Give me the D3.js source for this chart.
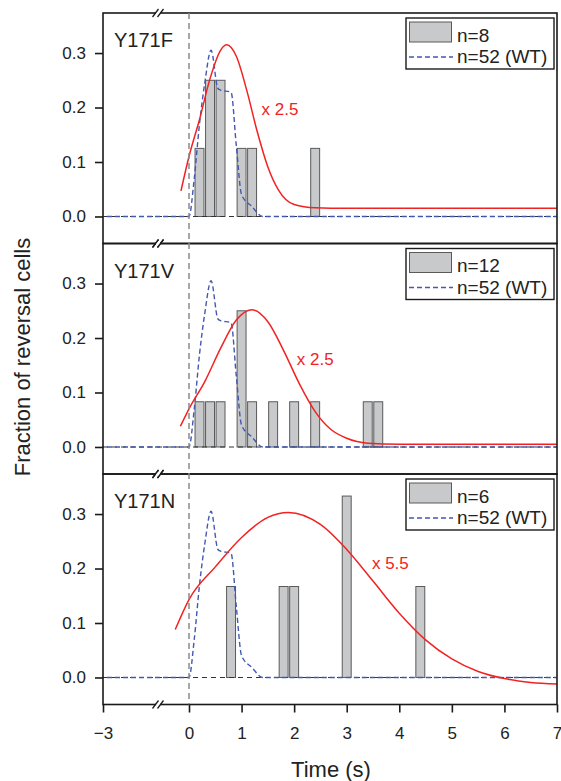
<!DOCTYPE html>
<html>
<head>
<meta charset="utf-8">
<script src="https://cdn.jsdelivr.net/npm/d3@7"></script>
<style>
  body { margin: 0; background: #fff; }
  text { font-family: "Liberation Sans", Arial, sans-serif; fill: #222; }
</style>
</head>
<body>
<div id="plt"></div>
<script>
// Mutants, one panel each
const mutants = ["Y171F", "Y171V", "Y171N"];
const cellCounts = [8, 12, 6];
const fitScales = ["x 2.5", "x 2.5", "x 5.5"];
const fitLabelAt = [[1.38, 0.186], [2.05, 0.151], [3.48, 0.2]]; // time, fraction

// histogram bin centres (s) and fractions
const binTimes = [
  [0.2, 0.4, 0.6, 1.0, 1.2, 2.4],
  [0.2, 0.4, 0.6, 1.0, 1.2, 1.6, 2.0, 2.4, 3.4, 3.6],
  [0.8, 1.8, 2.0, 3.0, 4.4]
];
const binFractions = [
  [0.125, 0.25, 0.25, 0.125, 0.125, 0.125],
  [0.083, 0.083, 0.083, 0.25, 0.083, 0.083, 0.083, 0.083, 0.083, 0.083],
  [0.167, 0.167, 0.167, 0.333, 0.167]
];

// wild type (n=52), same in every panel
const wtTimes = [-3, 0, 0.1, 0.2, 0.3, 0.42, 0.55, 0.6, 0.8, 0.9, 1.0, 1.2, 1.4, 7];
const wtFractions = [0, 0, 0.07, 0.17, 0.245, 0.305, 0.235, 0.232, 0.228, 0.13, 0.04, 0.018, 0, 0];

// scaled fit curves
const fitTimes = [
  [-0.28, 0, 0.2, 0.4, 0.6, 0.72, 0.9, 1.1, 1.3, 1.5, 1.7, 2.0, 2.4, 3, 7],
  [-0.3, 0, 0.3, 0.6, 0.9, 1.19, 1.5, 1.8, 2.1, 2.4, 2.7, 3.0, 3.4, 4, 7],
  [-0.48, 0, 0.5, 1.0, 1.5, 1.89, 2.5, 3.0, 3.5, 4.0, 4.5, 5.0, 5.5, 6.0, 6.5, 7.0]
];
const fitValues = [
  [0.047, 0.11, 0.178, 0.253, 0.305, 0.315, 0.294, 0.231, 0.155, 0.091, 0.049, 0.022, 0.016, 0.015, 0.015],
  [0.038, 0.07, 0.12, 0.181, 0.233, 0.252, 0.23, 0.177, 0.116, 0.065, 0.032, 0.016, 0.007, 0.005, 0.005],
  [0.088, 0.143, 0.203, 0.257, 0.294, 0.303, 0.281, 0.235, 0.177, 0.118, 0.069, 0.034, 0.011, -0.002, -0.009, -0.012]
];

const xTicks = [-3, 0, 1, 2, 3, 4, 5, 6, 7];
const yTicks = [0, 0.1, 0.2, 0.3];

// layout
const W = 561, H = 781;
const left = 103, right = 557, top0 = 13, panelH = 230.5;
const breakX = 158;
const binWidth = 0.17;

const svg = d3.select("#plt")
    .append("svg")
    .attr("width", W)
    .attr("height", H);

// broken time axis: -3..0 squeezed
const x = d3.scaleLinear().domain([-3, 0, 7]).range([left, 189, right]);

const lastBottom = top0 + 3 * panelH;

mutants.forEach((name, i) => {
  const pTop = top0 + i * panelH;
  const pBot = pTop + panelH;
  const y = d3.scaleLinear().domain([-0.0496, 0.3735]).range([pBot, pTop]);
  const g = svg.append("g");

  // bars
  g.append("g")
    .selectAll("rect")
    .data(binTimes[i].map((t, k) => ({ t: t, v: binFractions[i][k] })))
    .enter()
    .append("rect")
    .attr("x", d => x(d.t - binWidth / 2))
    .attr("width", d => x(d.t + binWidth / 2) - x(d.t - binWidth / 2))
    .attr("y", d => y(d.v))
    .attr("height", d => y(0) - y(d.v))
    .attr("fill", "#c8c9ca")
    .attr("stroke", "#5a5a5a")
    .attr("stroke-width", 1);

  // zero baseline
  g.append("line")
    .attr("x1", x(-3)).attr("x2", x(7))
    .attr("y1", y(0)).attr("y2", y(0))
    .attr("stroke", "#333")
    .attr("stroke-width", 1.2)
    .attr("stroke-dasharray", "5,4");

  // wild type
  const curve = d3.line()
      .x(d => x(d[0]))
      .y(d => y(d[1]))
      .curve(d3.curveMonotoneX);
  g.append("path")
    .attr("d", curve(wtTimes.map((t, k) => [t, wtFractions[k]])))
    .attr("fill", "none")
    .attr("stroke", "#4358b0")
    .attr("stroke-width", 1.4)
    .attr("stroke-dasharray", "5,3")
    .attr("stroke-dashoffset", 4);

  // fit
  g.append("path")
    .attr("d", curve(fitTimes[i].map((t, k) => [t, fitValues[i][k]])))
    .attr("fill", "none")
    .attr("stroke", "#f22222")
    .attr("stroke-width", 1.5);

  g.append("text")
    .attr("x", x(fitLabelAt[i][0]))
    .attr("y", y(fitLabelAt[i][1]))
    .attr("font-size", 17)
    .style("fill", "#f22222")
    .text(fitScales[i]);

  // frame
  g.append("rect")
    .attr("x", left).attr("y", pTop)
    .attr("width", right - left).attr("height", panelH)
    .attr("fill", "none")
    .attr("stroke", "#1a1a1a")
    .attr("stroke-width", 1.6);

  // y axis
  const yAxis = g.append("g")
    .attr("transform", `translate(${left},0)`)
    .call(d3.axisLeft(y).tickValues(yTicks).tickFormat(d3.format(".1f")).tickSize(8).tickPadding(9));
  yAxis.select(".domain").remove();
  yAxis.selectAll("line").attr("stroke", "#1a1a1a").attr("stroke-width", 1.6);
  yAxis.selectAll("text").attr("font-size", 17).attr("font-family", null);

  // panel label
  g.append("text")
    .attr("x", 114)
    .attr("y", pTop + 34)
    .attr("font-size", 20)
    .text(name);

  // legend
  const lg = g.append("g").attr("transform", `translate(406,${pTop + 5})`);
  lg.append("rect")
    .attr("width", 148).attr("height", 51)
    .attr("fill", "#fff")
    .attr("stroke", "#1a1a1a")
    .attr("stroke-width", 1.4);
  lg.append("rect")
    .attr("x", 3.5).attr("y", 4)
    .attr("width", 42).attr("height", 20)
    .attr("fill", "#c8c9ca")
    .attr("stroke", "#5a5a5a");
  lg.append("line")
    .attr("x1", 3).attr("x2", 47)
    .attr("y1", 39).attr("y2", 39)
    .attr("stroke", "#4358b0")
    .attr("stroke-width", 1.4)
    .attr("stroke-dasharray", "5,3");
  lg.append("text").attr("x", 51).attr("y", 23.5).attr("font-size", 19).text("n=" + cellCounts[i]);
  lg.append("text").attr("x", 51).attr("y", 45).attr("font-size", 19).text("n=52 (WT)");

  // axis break marks top and bottom
  [pTop, pBot].forEach(yy => {
    g.append("rect")
      .attr("x", breakX - 2).attr("y", yy - 2)
      .attr("width", 4).attr("height", 4)
      .attr("fill", "#fff");
    [-2.5, 2.5].forEach(dx => {
      g.append("line")
        .attr("x1", breakX + dx - 3).attr("y1", yy + 4)
        .attr("x2", breakX + dx + 3).attr("y2", yy - 4)
        .attr("stroke", "#1a1a1a")
        .attr("stroke-width", 1.3);
    });
  });
});

// t = 0 marker across all panels
svg.append("line")
  .attr("x1", x(0)).attr("x2", x(0))
  .attr("y1", top0).attr("y2", lastBottom)
  .attr("stroke", "#8a8a8a")
  .attr("stroke-width", 1.5)
  .attr("stroke-dasharray", "6,4");

// bottom time axis
const xAxis = svg.append("g")
  .attr("transform", `translate(0,${lastBottom})`)
  .call(d3.axisBottom(x).tickValues(xTicks)
    .tickFormat(d => d < 0 ? "\u2212" + Math.abs(d) : d)
    .tickSize(8).tickPadding(14));
xAxis.select(".domain").remove();
xAxis.selectAll("line").attr("stroke", "#1a1a1a").attr("stroke-width", 1.6);
xAxis.selectAll("text").attr("font-size", 17).attr("font-family", null);

svg.append("text")
  .attr("x", 331)
  .attr("y", 777)
  .attr("text-anchor", "middle")
  .attr("font-size", 22)
  .text("Time (s)");

svg.append("text")
  .attr("transform", "translate(30,357) rotate(-90)")
  .attr("text-anchor", "middle")
  .attr("font-size", 22)
  .text("Fraction of reversal cells");
</script>
</body>
</html>
